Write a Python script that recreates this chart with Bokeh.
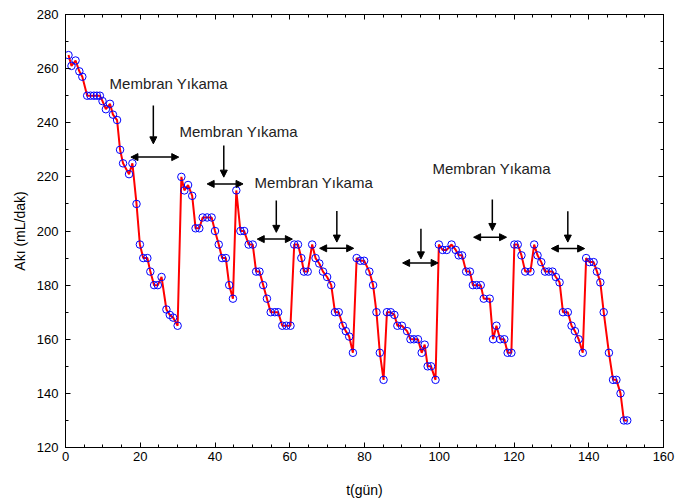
from bokeh.plotting import figure
from bokeh.models import (Range1d, LinearAxis, Arrow, NormalHead, Label, FixedTicker,
                          ColumnDataSource, CustomLabelingPolicy)
from bokeh.embed import file_html
from bokeh.resources import INLINE

# ---- data ----
t_day = [0.8, 1.6, 2.7, 3.7, 4.5, 5.8, 6.7, 7.6, 8.4, 9.2, 9.9, 10.8, 11.9, 12.7, 13.8,
         14.6, 15.4, 17.0, 17.9, 19.0, 19.9, 20.8, 21.9, 22.7, 23.7, 24.7, 25.7, 27.0, 27.9,
         28.8, 30.0, 31.0, 31.8, 32.8, 33.9, 34.8, 35.8, 36.7, 37.9, 39.1, 40.0, 41.0, 41.9,
         42.9, 43.8, 44.8, 45.7, 46.8, 47.8, 49.0, 50.1, 51.0, 51.9, 52.9, 53.9, 54.9, 56.0,
         56.9, 58.0, 59.1, 60.2, 61.2, 62.2, 63.1, 63.8, 64.8, 66.0, 66.9, 67.9, 68.9, 70.0,
         71.1, 72.1, 73.1, 74.2, 75.0, 75.9, 76.9, 77.9, 78.9, 79.9, 81.3, 82.3, 83.2, 84.1,
         85.1, 86.0, 87.0, 88.0, 88.8, 90.0, 91.4, 92.3, 93.2, 94.3, 95.3, 96.1, 96.9, 97.8,
         99.0, 99.9, 100.9, 102.0, 103.3, 104.4, 105.2, 106.1, 107.2, 108.2, 109.0, 110.0,
         111.1, 111.9, 113.5, 114.4, 115.3, 116.3, 117.4, 118.3, 119.3, 120.1, 121.0, 122.0,
         123.0, 124.4, 125.4, 126.3, 127.3, 128.3, 129.3, 130.3, 131.2, 132.2, 133.1, 134.4,
         135.4, 136.3, 137.3, 138.4, 139.3, 140.2, 141.3, 142.2, 143.1, 144.0, 145.4, 146.5,
         147.4, 148.5, 149.4, 150.3]
flux = [265, 261, 263, 259, 257, 250, 250, 250, 250, 250, 248, 245, 247, 243, 241,
        230, 225, 221, 225, 210, 195, 190, 190, 185, 180, 180, 183, 171, 169,
        168, 165, 220, 215, 217, 213, 201, 201, 205, 205, 205, 200, 195, 190,
        190, 180, 175, 215, 200, 200, 195, 195, 185, 185, 180, 175, 170, 170,
        170, 165, 165, 165, 195, 195, 190, 185, 185, 195, 190, 188, 185, 183,
        180, 170, 170, 165, 163, 161, 155, 190, 189, 189, 185, 180, 170, 155,
        145, 170, 170, 169, 165, 165, 163, 160, 160, 160, 155, 158, 150, 150,
        145, 195, 193, 193, 195, 193, 191, 191, 185, 185, 180, 180,
        180, 175, 175, 160, 165, 160, 160, 155, 155, 195, 195, 191,
        185, 185, 195, 191, 188.5, 185, 185, 185, 183, 181, 170, 170,
        165, 163, 160, 155, 190, 188.5, 188.5, 185, 181, 170, 155, 145,
        145, 140, 130, 130]

x_ticks = [0, 20, 40, 60, 80, 100, 120, 140, 160]
y_ticks = [120, 140, 160, 180, 200, 220, 240, 260, 280]

# annotations (data coordinates)
label_text = "Membran Yıkama"
label_x = [11.8, 30.5, 50.6, 98.2]
label_y = [254.5, 236.8, 217.9, 223.1]

down_x = [23.5, 42.35, 56.4, 72.6, 95.1, 114.2, 134.4]
down_top = [246.4, 231.6, 211.3, 207.4, 200.8, 211.6, 207.3]
down_bot = [232.2, 219.9, 199.5, 195.9, 189.7, 200.2, 195.9]

dbl_y = [227.3, 217.4, 197.0, 193.6, 188.2, 197.7, 193.5]
dbl_x0 = [17.5, 37.9, 51.3, 68.0, 90.2, 109.2, 130.0]
dbl_x1 = [30.3, 47.5, 60.7, 77.1, 99.7, 118.0, 138.9]

FONT = "Liberation Sans"

p = figure(width=675, height=502, x_range=Range1d(0, 160), y_range=Range1d(120, 280),
           output_backend="svg", toolbar_location=None,
           min_border_left=65, min_border_right=12, min_border_top=14, min_border_bottom=55,
           background_fill_color="white", border_fill_color="white")

p.xgrid.visible = False
p.ygrid.visible = False
p.outline_line_color = "black"
p.outline_line_width = 1
p.outline_line_alpha = 1

src = ColumnDataSource(dict(t=t_day, v=flux))
p.line("t", "v", source=src, line_color="#ff0000", line_width=2)
p.scatter("t", "v", source=src, marker="circle", size=7.5, fill_color=None,
          line_color="#0000ff", line_width=1)

# axes
p.xaxis.ticker = FixedTicker(ticks=x_ticks, minor_ticks=list(range(0, 161, 5)))
p.yaxis.ticker = FixedTicker(ticks=y_ticks, minor_ticks=list(range(120, 281, 10)))
p.xaxis.axis_label = "t(gün)"
p.yaxis.axis_label = "Akı (mL/dak)"

for ax in [p.xaxis[0], p.yaxis[0]]:
    ax.major_tick_in = 5
    ax.major_tick_out = 0
    ax.minor_tick_in = 3
    ax.minor_tick_out = 0
    ax.axis_line_color = "black"
    ax.major_tick_line_color = "black"
    ax.minor_tick_line_color = "black"
    ax.major_label_text_font = FONT
    ax.major_label_text_font_size = "13px"
    ax.major_label_text_color = "black"
    ax.axis_label_text_font = FONT
    ax.axis_label_text_font_size = "14px"
    ax.axis_label_text_font_style = "normal"
    ax.axis_label_text_color = "black"

p.xaxis.major_label_standoff = 4
p.xaxis.axis_label_standoff = 18
p.yaxis.major_label_standoff = 7
p.yaxis.axis_label_standoff = 6

# mirrored tick marks on the top and right edges, without labels
no_labels = CustomLabelingPolicy(code="return new Set()")
top = LinearAxis(ticker=FixedTicker(ticks=x_ticks, minor_ticks=list(range(0, 161, 5))),
                 major_label_policy=no_labels)
right = LinearAxis(ticker=FixedTicker(ticks=y_ticks, minor_ticks=list(range(120, 281, 10))),
                   major_label_policy=no_labels)
for ax in [top, right]:
    ax.major_tick_in = 5
    ax.major_tick_out = 0
    ax.minor_tick_in = 3
    ax.minor_tick_out = 0
    ax.major_label_standoff = 0
    ax.major_label_text_font = FONT
    ax.major_label_text_font_size = "1px"
p.add_layout(top, "above")
p.add_layout(right, "right")

# annotations
for lx, ly in zip(label_x, label_y):
    p.add_layout(Label(x=lx, y=ly, text=label_text, text_font=FONT, text_font_size="15px",
                       text_baseline="middle", text_align="left", text_color="#222222"))

down_src = ColumnDataSource(dict(x=down_x, y0=down_top, y1=down_bot))
p.add_layout(Arrow(end=NormalHead(size=7, fill_color="black", line_color="black"),
                   x_start="x", y_start="y0", x_end="x", y_end="y1", source=down_src,
                   line_color="black", line_width=1.5))

dbl_src = ColumnDataSource(dict(y=dbl_y, x0=dbl_x0, x1=dbl_x1))
p.add_layout(Arrow(start=NormalHead(size=7, fill_color="black", line_color="black"),
                   end=NormalHead(size=7, fill_color="black", line_color="black"),
                   x_start="x0", y_start="y", x_end="x1", y_end="y", source=dbl_src,
                   line_color="black", line_width=1.5))

open("out.html", "w").write(file_html(p, INLINE))
